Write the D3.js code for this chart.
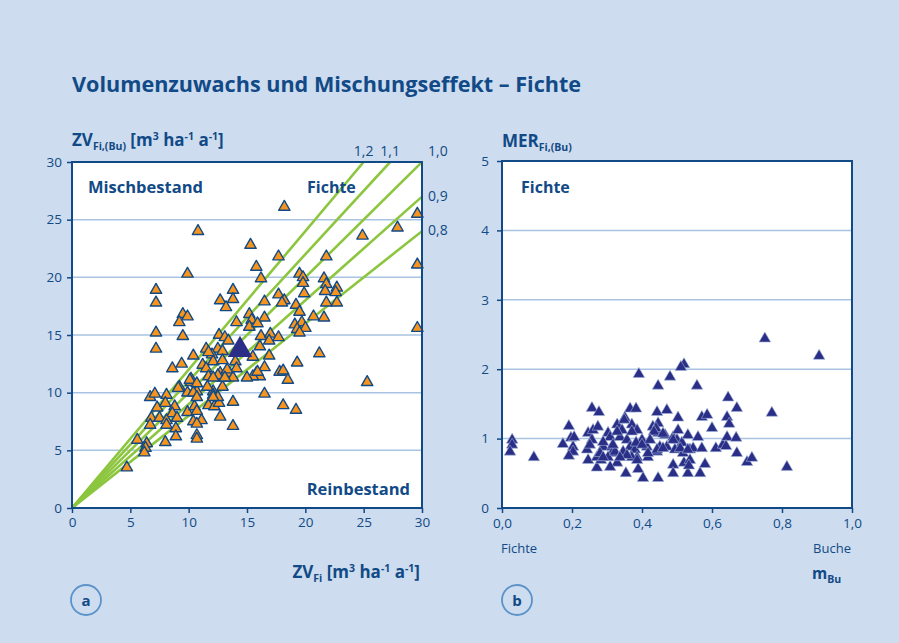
<!DOCTYPE html>
<html><head><meta charset="utf-8">
<script src="https://cdn.jsdelivr.net/npm/d3@7"></script>
<style>
html,body{margin:0;padding:0;background:#cddcee;}
svg{display:block;font-family:"Open Sans",sans-serif;}
</style></head>
<body><svg id="c" width="899" height="643"></svg>
<script>
// ---- data: panel a (ZV_Fi vs ZV_Fi,(Bu))
const zvFi = [18.2,10.8,29.6,24.9,27.9,15.3,17.7,21.8,15.8,9.9,29.6,16.2,19.5,19.8,19.8,21.6,21.8,22.7,21.7,22.6,19.9,7.2,7.2,13.8,12.7,13.8,13.2,16.5,17.7,18.2,18.0,21.8,22.7,19.2,19.5,9.5,9.9,9.2,15.2,15.4,16.5,14.1,15.2,15.9,20.7,21.6,19.1,19.7,19.3,20.0,19.5,7.2,9.5,12.6,13.1,13.4,16.2,17.0,16.9,17.7,29.6,7.2,16.1,11.5,12.5,12.9,12.0,10.4,15.5,16.9,21.2,12.1,12.9,14.0,9.4,11.2,11.5,16.5,19.3,8.6,12.7,13.5,14.1,15.8,17.8,18.1,16.1,15.5,18.5,25.3,10.2,11.7,12.9,13.8,6.7,7.1,8.1,9.2,10.2,9.9,10.7,12.1,12.9,16.5,13.8,7.3,8.0,8.8,8.6,9.9,10.5,10.7,11.7,12.2,12.6,6.8,7.5,8.1,9.0,6.7,8.1,8.9,10.4,11.1,10.7,12.7,13.8,18.1,19.2,8.9,10.7,10.7,5.6,6.4,6.3,8.0,6.2,4.7,12.5,10.1,10.7,11.6,9.1,10.4,10.7,12.1,12.5,13.3,13.1,12.1,12.1,15.0,15.9,11.7];
const zvFiBu = [26.1,24.0,25.5,23.6,24.3,22.8,21.8,21.8,20.9,20.3,21.1,19.9,20.3,20.0,19.5,19.9,19.4,19.1,18.8,18.7,18.6,18.9,17.8,18.9,18.0,18.1,17.4,17.9,18.5,18.0,17.8,17.8,17.8,17.6,17.0,16.8,16.6,16.1,16.8,16.3,16.5,16.1,15.7,16.0,16.6,16.5,15.9,16.1,15.5,15.6,15.2,15.2,14.9,15.0,14.8,14.5,14.9,15.1,14.5,14.8,15.6,13.8,14.0,13.8,13.8,13.6,13.3,13.2,13.1,13.2,13.4,12.7,12.8,12.7,12.5,12.4,12.1,12.2,12.6,12.1,11.7,11.7,12.1,11.7,11.8,11.9,11.4,11.4,11.1,10.9,11.2,11.4,11.3,11.3,9.6,9.9,9.8,10.5,10.9,10.0,10.1,10.1,10.5,9.9,9.2,8.7,9.1,8.8,8.2,8.3,8.8,8.4,8.9,8.8,9.1,7.8,7.8,7.6,7.8,7.2,7.2,6.9,7.5,7.6,7.3,7.9,7.1,8.9,8.5,6.2,6.3,6.0,5.9,5.6,5.2,5.7,4.8,3.5,11.5,11.1,10.8,10.5,10.4,10.0,9.6,9.8,9.6,12.0,11.3,11.3,9.6,11.3,11.8,13.5];
const meanA = [14.4, 13.7];
const ratios = [1.2, 1.1, 1.0, 0.9, 0.8];
const ratioLabels = ["1,2","1,1","1,0","0,9","0,8"];
const ticksA = [0,5,10,15,20,25,30];

// ---- data: panel b (m_Bu vs MER)
const mBu = [0.751,0.906,0.52,0.511,0.391,0.48,0.446,0.557,0.646,0.771,0.814,0.029,0.029,0.023,0.091,0.191,0.257,0.277,0.366,0.383,0.443,0.471,0.503,0.571,0.586,0.643,0.649,0.671,0.197,0.206,0.174,0.203,0.203,0.191,0.246,0.26,0.274,0.257,0.243,0.246,0.271,0.283,0.289,0.303,0.309,0.314,0.314,0.329,0.343,0.351,0.371,0.386,0.337,0.357,0.366,0.38,0.329,0.354,0.389,0.403,0.40,0.414,0.417,0.431,0.446,0.446,0.466,0.451,0.443,0.471,0.446,0.489,0.503,0.50,0.514,0.494,0.517,0.531,0.509,0.489,0.489,0.52,0.537,0.537,0.546,0.56,0.571,0.531,0.566,0.58,0.60,0.611,0.631,0.643,0.64,0.669,0.671,0.70,0.714,0.251,0.271,0.28,0.303,0.323,0.346,0.386,0.371,0.357,0.309,0.349,0.329,0.371,0.383,0.317,0.337,0.289,0.289,0.44,0.434,0.46,0.489,0.531,0.534,0.417,0.386,0.423,0.40,0.443,0.46];
const mer = [2.44,2.19,2.07,2.03,1.93,1.89,1.76,1.76,1.59,1.37,0.59,0.98,0.91,0.81,0.73,1.18,1.44,1.38,1.43,1.43,1.38,1.41,1.30,1.31,1.34,1.31,1.21,1.44,1.01,1.02,0.92,0.88,0.81,0.75,1.08,1.12,1.17,0.98,0.84,0.69,0.58,0.69,0.88,1.08,1.02,0.88,0.79,1.20,1.12,1.30,1.20,1.12,1.02,0.98,0.88,0.84,0.65,0.50,0.56,0.43,0.98,0.88,0.73,1.17,1.22,1.08,1.05,0.88,0.81,0.88,0.43,1.02,1.12,0.98,0.94,0.84,0.79,1.05,0.86,0.62,0.50,0.65,0.69,0.84,0.86,1.02,0.86,0.50,0.50,0.63,1.15,0.86,0.91,1.02,0.89,1.01,0.79,0.66,0.72,0.91,0.73,0.79,0.73,0.81,0.81,0.73,0.73,0.76,0.59,1.27,1.10,1.10,0.94,0.91,0.73,0.73,0.95,1.15,1.10,1.07,0.98,0.84,0.61,0.79,0.69,0.98,0.91,0.84,0.86];
const ticksBy = [0,1,2,3,4,5];
const ticksBx = [0,0.2,0.4,0.6,0.8,1.0];

const navy = "#114a86", grid = "#a9c4e2", green = "#8cc63f", orange = "#f7941d", tri = "#2b2e86";
const svg = d3.select("#c");
const fmt = d => d3.format(".1f")(d).replace(".", ",");

// title
svg.append("text").attr("x", 72).attr("y", 92).attr("fill", navy)
  .attr("font-size", 21.6).attr("font-weight", 700)
  .text("Volumenzuwachs und Mischungseffekt – Fichte");

// ---------- Panel a ----------
const xa = d3.scaleLinear().domain([0,30]).range([72,422]);
const ya = d3.scaleLinear().domain([0,30]).range([508,162]);
const ga = svg.append("g");
ga.append("rect").attr("x",72).attr("y",162).attr("width",350).attr("height",346).attr("fill","#fff");
ga.selectAll("line.g").data(ticksA.slice(1,-1)).join("line").attr("class","g")
  .attr("x1",72).attr("x2",422).attr("y1",d=>ya(d)).attr("y2",d=>ya(d))
  .attr("stroke",grid).attr("stroke-width",1.5);
ga.append("clipPath").attr("id","clipA").append("rect").attr("x",72).attr("y",162).attr("width",350).attr("height",346);
ga.append("g").attr("clip-path","url(#clipA)").selectAll("line").data(ratios).join("line")
  .attr("x1",xa(0)).attr("y1",ya(0))
  .attr("x2",d=>xa(Math.min(30,30/d))).attr("y2",d=>ya(Math.min(30,30/d)*d))
  .attr("stroke",green).attr("stroke-width",2.6);
const triSmall = d3.symbol().type(d3.symbolTriangle).size(56)();
ga.append("g").selectAll("path").data(zvFi.map((d,i)=>[d,zvFiBu[i]])).join("path")
  .attr("d",triSmall).attr("transform",d=>`translate(${xa(d[0])},${ya(d[1])})`)
  .attr("fill",orange).attr("stroke",navy).attr("stroke-width",1.4).attr("stroke-linejoin","round");
ga.append("path").attr("d",d3.symbol().type(d3.symbolTriangle).size(260)())
  .attr("transform",`translate(${xa(meanA[0])},${ya(meanA[1])})`).attr("fill",tri);
ga.append("rect").attr("x",72).attr("y",162).attr("width",350).attr("height",346)
  .attr("fill","none").attr("stroke",navy).attr("stroke-width",2);
const axAy = ga.append("g").attr("transform","translate(72,0)")
  .call(d3.axisLeft(ya).tickValues(ticksA).tickSize(5).tickPadding(5).tickFormat(d3.format("d")));
const axAx = ga.append("g").attr("transform","translate(0,508)")
  .call(d3.axisBottom(xa).tickValues(ticksA).tickSize(5).tickPadding(4).tickFormat(d3.format("d")));
[axAy, axAx].forEach(a=>{a.select(".domain").remove();
  a.selectAll("line").attr("stroke",navy).attr("stroke-width",1.5);
  a.selectAll("text").attr("fill",navy).attr("font-size",13.5).attr("font-family","Open Sans");});
// ratio labels: >1 above the top edge where the line leaves; <=1 right of the right edge
ga.selectAll("text.rl").data(ratioLabels).join("text").attr("class","rl")
  .attr("x",(d,i)=> ratios[i]>1 ? xa(30/ratios[i]) : 428)
  .attr("y",(d,i)=> ratios[i]>=1 ? 156 : ya(30*ratios[i])+4)
  .attr("text-anchor",(d,i)=>ratios[i]>1?"middle":"start")
  .attr("fill",navy).attr("font-size",14).text(d=>d);
ga.append("text").attr("x",88).attr("y",193).attr("fill",navy).attr("font-size",16.5).attr("font-weight",700).text("Mischbestand");
ga.append("text").attr("x",307).attr("y",193).attr("fill",navy).attr("font-size",16).attr("font-weight",700).text("Fichte");
ga.append("text").attr("x",410).attr("y",495).attr("text-anchor","end").attr("fill",navy).attr("font-size",16.5).attr("font-weight",700).text("Reinbestand");

function unitLabel(g, x, y, main, sub, anchor){
  const t = g.append("text").attr("x",x).attr("y",y).attr("fill",navy).attr("font-weight",700).attr("font-size",17).attr("text-anchor",anchor||"start");
  t.append("tspan").text(main);
  t.append("tspan").attr("font-size",10.5).attr("dy",4).text(sub);
  t.append("tspan").attr("dy",-4).text(" [m");
  t.append("tspan").attr("font-size",10.5).attr("dy",-6).text("3");
  t.append("tspan").attr("dy",6).text(" ha");
  t.append("tspan").attr("font-size",10.5).attr("dy",-6).text("-1");
  t.append("tspan").attr("dy",6).text(" a");
  t.append("tspan").attr("font-size",10.5).attr("dy",-6).text("-1");
  t.append("tspan").attr("dy",6).text("]");
}
unitLabel(svg, 72, 146, "ZV", "Fi,(Bu)");
unitLabel(svg, 420, 578, "ZV", "Fi", "end");

// ---------- Panel b ----------
const xb = d3.scaleLinear().domain([0,1]).range([502,852]);
const yb = d3.scaleLinear().domain([0,5]).range([508,161]);
const gb = svg.append("g");
gb.append("rect").attr("x",502).attr("y",161).attr("width",350).attr("height",347).attr("fill","#fff");
gb.selectAll("line.g").data(ticksBy.slice(1,-1)).join("line").attr("class","g")
  .attr("x1",502).attr("x2",852).attr("y1",d=>yb(d)).attr("y2",d=>yb(d))
  .attr("stroke",grid).attr("stroke-width",1.5);
gb.append("g").selectAll("path").data(mBu.map((d,i)=>[d,mer[i]])).join("path")
  .attr("d",d3.symbol().type(d3.symbolTriangle).size(58)())
  .attr("transform",d=>`translate(${xb(d[0])},${yb(d[1])})`)
  .attr("fill",tri).attr("stroke","#9fb4d8").attr("stroke-width",0.6);
gb.append("rect").attr("x",502).attr("y",161).attr("width",350).attr("height",347)
  .attr("fill","none").attr("stroke",navy).attr("stroke-width",2);
const axBy = gb.append("g").attr("transform","translate(502,0)")
  .call(d3.axisLeft(yb).tickValues(ticksBy).tickSize(5).tickPadding(8).tickFormat(d3.format("d")));
const axBx = gb.append("g").attr("transform","translate(0,508)")
  .call(d3.axisBottom(xb).tickValues(ticksBx).tickSize(5).tickPadding(5).tickFormat(fmt));
[axBy, axBx].forEach(a=>{a.select(".domain").remove();
  a.selectAll("line").attr("stroke",navy).attr("stroke-width",1.5);
  a.selectAll("text").attr("fill",navy).attr("font-size",13.5).attr("font-family","Open Sans");});
gb.append("text").attr("x",521).attr("y",193).attr("fill",navy).attr("font-size",16).attr("font-weight",700).text("Fichte");
const mt = gb.append("text").attr("x",502).attr("y",147).attr("fill",navy).attr("font-weight",700).attr("font-size",17);
mt.append("tspan").text("MER"); mt.append("tspan").attr("font-size",10.5).attr("dy",4).text("Fi,(Bu)");
gb.append("text").attr("x",519).attr("y",553).attr("text-anchor","middle").attr("fill",navy).attr("font-size",13).text("Fichte");
gb.append("text").attr("x",832).attr("y",553).attr("text-anchor","middle").attr("fill",navy).attr("font-size",13).text("Buche");
const mb = gb.append("text").attr("x",812).attr("y",579).attr("fill",navy).attr("font-weight",700).attr("font-size",15.5);
mb.append("tspan").text("m"); mb.append("tspan").attr("font-size",10.5).attr("dy",4).text("Bu");

// panel badges
[["a",86],["b",517]].forEach(([l,cx])=>{
  svg.append("circle").attr("cx",cx).attr("cy",600).attr("r",15).attr("fill","none").attr("stroke","#5b93c9").attr("stroke-width",1.8);
  svg.append("text").attr("x",cx).attr("y",605.5).attr("text-anchor","middle").attr("fill",navy).attr("font-weight",700).attr("font-size",15).text(l);
});
</script></body></html>
